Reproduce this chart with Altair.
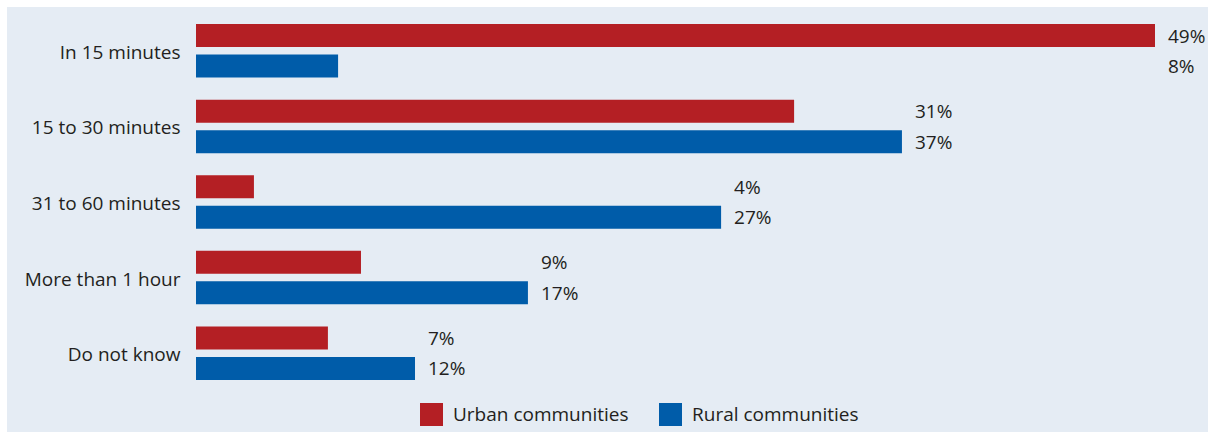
import altair as alt
import pandas as pd

categories = ["In 15 minutes", "15 to 30 minutes", "31 to 60 minutes", "More than 1 hour", "Do not know"]
series = ["Urban communities", "Rural communities"]
urban_values = [49.0, 30.56, 2.96, 8.43, 6.74]
rural_values = [7.26, 36.07, 26.83, 16.96, 11.19]
urban_labels = ["49%", "31%", "4%", "9%", "7%"]
rural_labels = ["8%", "37%", "27%", "17%", "12%"]

rows = []
for i, c in enumerate(categories):
    rows.append({"category": c, "series": series[0], "value": urban_values[i], "label": urban_labels[i]})
    rows.append({"category": c, "series": series[1], "value": rural_values[i], "label": rural_labels[i]})
df = pd.DataFrame(rows)

FONT = "Open Sans"
BG = "#e5ecf4"
TXT = "#231f20"
FS = 19

y_enc = alt.Y("category:N", sort=categories,
              scale=alt.Scale(paddingInner=0.292, paddingOuter=0.146),
              axis=alt.Axis(title=None, domain=False, ticks=False, labelPadding=16,
                            labelOffset=2,
                            labelFontSize=FS, labelFont=FONT, labelColor=TXT,
                            minExtent=196, maxExtent=196, labelLimit=300, zindex=1))
yoff = alt.YOffset("series:N", sort=series,
                   scale=alt.Scale(paddingInner=0.246, paddingOuter=0))
x_scale = alt.Scale(domain=[0, 49], nice=False, zero=True)

base = alt.Chart(df)

panel = base.mark_rect(color=BG).encode(
    x=alt.value(-189), x2=alt.value(1012), y=alt.value(-6), y2=alt.value(419)
)

bars = base.mark_bar().encode(
    y=y_enc,
    yOffset=yoff,
    x=alt.X("value:Q", scale=x_scale, axis=None),
    color=alt.Color("series:N", sort=series,
                    scale=alt.Scale(domain=series, range=["#b41f24", "#005ca9"]),
                    legend=alt.Legend(title=None, orient="none", direction="horizontal",
                                      legendX=224, legendY=390,
                                      symbolType="square", symbolSize=529,
                                      symbolStrokeWidth=0, symbolOpacity=1,
                                      labelFont=FONT, labelFontSize=FS, labelColor=TXT,
                                      labelLimit=400,
                                      columnPadding=30, labelOffset=10, zindex=1)),
)

labels = base.transform_joinaggregate(
    pos="max(value)", groupby=["category"]
).mark_text(align="left", baseline="middle", dx=13, dy=1, font=FONT, fontSize=FS, color=TXT).encode(
    y=alt.Y("category:N", sort=categories),
    yOffset=alt.YOffset("series:N", sort=series),
    x=alt.X("pos:Q", scale=x_scale),
    text="label:N",
)

chart = alt.layer(panel, bars, labels).properties(
    width=959, height=378,
    background="white",
    padding={"left": 0, "top": 7, "right": 0, "bottom": 0},
).configure_view(stroke=None)

chart.save("out.html", embed_options={"renderer": "svg", "actions": False})
